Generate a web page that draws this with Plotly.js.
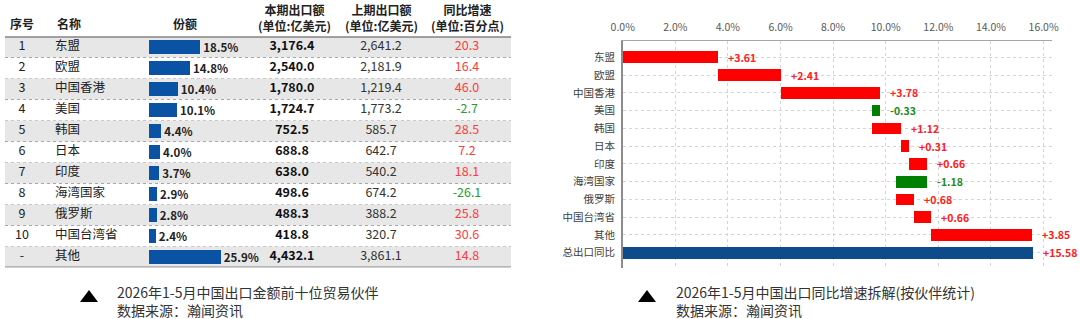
<!DOCTYPE html>
<html><head><meta charset="utf-8">
<script src="https://cdn.plot.ly/plotly-3.0.1.min.js"></script>
<style>html,body{margin:0;padding:0;background:#fff}#c{width:1080px;height:319px}</style>
</head><body><div id="c"></div>
<script>
// ---- data: left table ----
const rank = ['1','2','3','4','5','6','7','8','9','10','-'];
const names = ['东盟','欧盟','中国香港','美国','韩国','日本','印度','海湾国家','俄罗斯','中国台湾省','其他'];
const share = [18.5,14.8,10.4,10.1,4.4,4.0,3.7,2.9,2.8,2.4,25.9];
const current = [3176.4,2540.0,1780.0,1724.7,752.5,688.8,638.0,498.6,488.3,418.8,4432.1];
const previous = [2641.2,2181.9,1219.4,1773.2,585.7,642.7,540.2,674.2,388.2,320.7,3861.1];
const growth = [20.3,16.4,46.0,-2.7,28.5,7.2,18.1,-26.1,25.8,30.6,14.8];
const headers = ['序号','名称','份额','本期出口额<br>(单位:亿美元)','上期出口额<br>(单位:亿美元)','同比增速<br>(单位:百分点)'];
// ---- data: right waterfall ----
const wfCats = ['东盟','欧盟','中国香港','美国','韩国','日本','印度','海湾国家','俄罗斯','中国台湾省','其他','总出口同比'];
const wfDelta = [3.61,2.41,3.78,-0.33,1.12,0.31,0.66,-1.18,0.68,0.66,3.85];
const wfTotal = 15.58;
const xTicks = [0,2,4,6,8,10,12,14,16];
const captionL = ['2026年1-5月中国出口金额前十位贸易伙伴','数据来源：瀚闻资讯'];
const captionR = ['2026年1-5月中国出口同比增速拆解(按伙伴统计)','数据来源：瀚闻资讯'];

const W = 1080, H = 319;
const X = p => p / W, Y = p => 1 - p / H;
const FONT = 'Noto Sans CJK SC, Noto Sans, sans-serif';
const RED = '#ff0000', GREEN = '#008000';
const fmt = v => v.toLocaleString('en-US',{minimumFractionDigits:1,maximumFractionDigits:1});
const rows = names.map((_, i) => i);

const traces = [];
// table text columns (x2 = pixel axis, y2 = row axis)
function col(xp, texts, pos, font) {
  traces.push({type:'scatter', mode:'text', xaxis:'x2', yaxis:'y2', x: rows.map(()=>xp), y: rows,
    text: texts, textposition: pos, textfont: font, hoverinfo:'skip', cliponaxis:false, showlegend:false});
}
col(22, rank, 'middle center', {family:FONT, size:12.5, color:'#222'});
col(55, names, 'middle right', {family:FONT, size:12.5, color:'#222'});
col(292, current.map(fmt), 'middle center', {family:FONT, size:12.5, color:'#111', weight:700});
col(381, previous.map(fmt), 'middle center', {family:FONT, size:12.5, color:'#333'});
col(467, growth.map(fmt), 'middle center', {family:FONT, size:12.5, color: growth.map(g => g < 0 ? '#2a9a2a' : '#ff3b3b')});
// share bars
traces.push({type:'bar', orientation:'h', xaxis:'x3', yaxis:'y2', x: share, y: rows, width:0.68,
  marker:{color:'#0a52a3'}, text: share.map(s => s.toFixed(1)+'%'), textposition:'outside', constraintext:'none',
  textfont:{family:FONT, size:11.5, color:'#222', weight:700}, cliponaxis:false, hoverinfo:'skip', showlegend:false});

// waterfall (bars with base)
const starts = [], ends = [];
let acc = 0;
wfDelta.forEach(d => { starts.push(acc); acc += d; ends.push(acc); });
const wfBase = wfDelta.map((d,i) => Math.min(starts[i], ends[i])).concat([0]);
const wfLen = wfDelta.map(d => Math.abs(d)).concat([wfTotal]);
const wfColor = wfDelta.map(d => d < 0 ? GREEN : RED).concat(['#0e4b8a']);
traces.push({type:'bar', orientation:'h', xaxis:'x', yaxis:'y', y: wfCats, x: wfLen, base: wfBase, width:0.66,
  marker:{color: wfColor}, hoverinfo:'skip', showlegend:false});

const annotations = [];
// waterfall labels
const labEnd = wfDelta.map((d,i) => Math.max(starts[i], ends[i])).concat([wfTotal]);
const labTxt = wfDelta.map(d => (d < 0 ? '' : '+') + d.toFixed(2)).concat(['+' + wfTotal.toFixed(2)]);
wfCats.forEach((c,i) => annotations.push({xref:'x', yref:'y', x: labEnd[i], y: c, text: labTxt[i],
  showarrow:false, xanchor:'left', xshift:8,
  font:{family:FONT, size:10.5, color: (i < wfDelta.length && wfDelta[i] < 0) ? '#1e8a1e' : '#ff2020', weight:700}}));
// table headers
const hx = [22, 55, 185, 294, 381, 467];
headers.forEach((h,i) => annotations.push({xref:'paper', yref:'paper', x: X(hx[i]), y: Y(i < 3 ? 24 : 17.5),
  text: h, showarrow:false, xanchor: i === 1 ? 'left' : 'center', yanchor:'middle',
  font:{family:FONT, size:12, color:'#222', weight:700}}));
// captions
[[captionL, 115], [captionR, 674]].forEach(([cap, x0]) => {
  annotations.push({xref:'paper', yref:'paper', x: X(x0), y: Y(300.5), text: cap.join('<br>'), showarrow:false,
    xanchor:'left', yanchor:'middle', align:'left', font:{family:FONT, size:14, color:'#333'}});
});

const shapes = [];
// row shading and separators
rows.forEach(i => {
  if (i % 2 === 0) shapes.push({type:'rect', xref:'paper', yref:'y2', x0:X(5), x1:X(511), y0:i-0.5, y1:i+0.5, fillcolor:'#e7e7e7', line:{width:0}, layer:'below'});
  if (i < rows.length - 1) shapes.push({type:'line', xref:'paper', yref:'y2', x0:X(5), x1:X(511), y0:i+0.5, y1:i+0.5, line:{color:'#a8a8a8', width:1, dash:'dot'}, layer:'below'});
});
shapes.push({type:'line', xref:'paper', yref:'y2', x0:X(5), x1:X(511), y0:-0.5, y1:-0.5, line:{color:'#505050', width:2}});
shapes.push({type:'line', xref:'paper', yref:'y2', x0:X(5), x1:X(511), y0:rows.length-0.5, y1:rows.length-0.5, line:{color:'#a6a6a6', width:2.5}});
// caption triangles
[[80, 98], [638, 656]].forEach(([a, b]) => shapes.push({type:'path', xref:'paper', yref:'paper',
  path:`M ${X(a)},${Y(302)} L ${X(b)},${Y(302)} L ${X((a+b)/2)},${Y(290)} Z`, fillcolor:'#000', line:{width:0}}));

const layout = {
  width:W, height:H, margin:{l:0,r:0,t:0,b:0}, paper_bgcolor:'#fff', plot_bgcolor:'rgba(0,0,0,0)',
  font:{family:FONT, color:'#333'}, showlegend:false, bargap:0,
  xaxis:{domain:[X(622.7), X(1052)], range:[0, 16.32], side:'top', anchor:'y', tickmode:'array', tickvals:xTicks,
    ticktext: xTicks.map(v => v.toFixed(1) + '%'),
    showgrid:true, gridcolor:'#d4d4d4', griddash:'dot', gridwidth:1, zeroline:false, showline:true, linecolor:'#a6a6a6', linewidth:1.5,
    ticks:'outside', ticklen:4, tickcolor:'rgba(0,0,0,0)', tickfont:{family:FONT, size:10.5, color:'#595959'}, fixedrange:true},
  yaxis:{domain:[Y(268), Y(41)], type:'category', categoryorder:'array', categoryarray:wfCats, range:[11.86, -0.918], anchor:'x',
    showgrid:true, gridcolor:'#d4d4d4', griddash:'dot', gridwidth:1, zeroline:false, showline:true, linecolor:'#8c8c8c', linewidth:1.5,
    ticks:'outside', ticklen:4, tickcolor:'rgba(0,0,0,0)', tickfont:{family:FONT, size:10.5, color:'#404040'}, fixedrange:true},
  xaxis2:{domain:[0,1], range:[0, W], anchor:'y2', visible:false, fixedrange:true},
  yaxis2:{domain:[Y(267.5), Y(36.5)], range:[rows.length-0.5, -0.5], anchor:'x2', visible:false, fixedrange:true},
  xaxis3:{domain:[X(149), X(249)], range:[0, 100/2.77], anchor:'y2', visible:false, fixedrange:true},
  annotations, shapes
};
Plotly.newPlot('c', traces, layout, {displayModeBar:false, staticPlot:true});
</script></body></html>
